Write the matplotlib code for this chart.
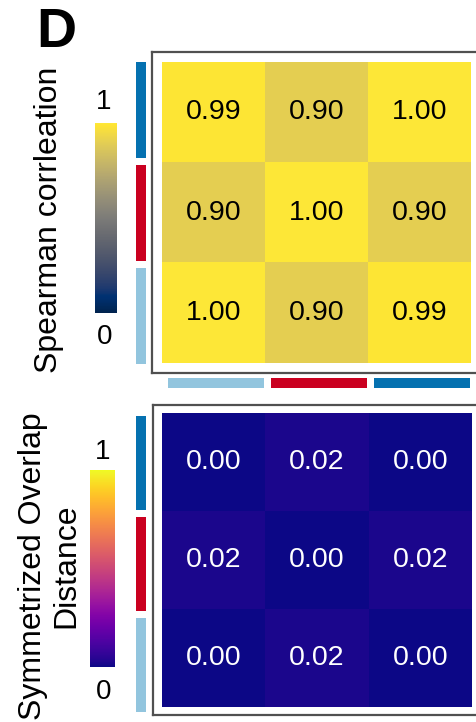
import numpy as np
import matplotlib
matplotlib.use('Agg')
import matplotlib.pyplot as plt
from matplotlib.cm import ScalarMappable
from matplotlib.colors import Normalize

plt.rcParams['font.family'] = ['Liberation Sans', 'DejaVu Sans']

# data
row_colors = ['#0571B0', '#CA0020', '#92C5DE']   # groups, top to bottom
col_colors = ['#92C5DE', '#CA0020', '#0571B0']   # groups, left to right
spearman = np.array([[0.99, 0.90, 1.00],
                     [0.90, 1.00, 0.90],
                     [1.00, 0.90, 0.99]])
overlap = np.array([[0.00, 0.02, 0.00],
                    [0.02, 0.00, 0.02],
                    [0.00, 0.02, 0.00]])

W, H = 476, 722
fig = plt.figure(figsize=(W / 100, H / 100), dpi=100)


def px_axes(x0, y0, x1, y1):
    # axes placed by pixel box (top-left origin)
    return fig.add_axes([x0 / W, 1 - y1 / H, (x1 - x0) / W, (y1 - y0) / H])


def frame(x0, y0, x1, y1):
    ax = px_axes(x0, y0, x1, y1)
    ax.set_xticks([])
    ax.set_yticks([])
    for s in ax.spines.values():
        s.set_color('#505050')
        s.set_linewidth(1.6)
    return ax


def heat(ax, mat, cmap, txt_color):
    ax.imshow(mat, cmap=cmap, vmin=0, vmax=1, aspect='auto', interpolation='nearest')
    for i in range(mat.shape[0]):
        for j in range(mat.shape[1]):
            ax.text(j, i, f'{mat[i, j]:.2f}', ha='center', va='center',
                    fontsize=20.5, color=txt_color)
    ax.axis('off')


def row_bars(ax):
    ax.barh(range(3), [1] * 3, height=0.93, color=row_colors)
    ax.set_ylim(2.5, -0.5)
    ax.set_xlim(0, 1)
    ax.axis('off')


def cbar(x0, y0, x1, y1, cmap):
    cax = px_axes(x0, y0, x1, y1)
    cb = fig.colorbar(ScalarMappable(Normalize(0, 1), cmap), cax=cax, ticks=[])
    cb.outline.set_visible(False)
    return cb


# --- top panel: Spearman correlation ---
frame(152, 52, 495, 373)
heat(px_axes(162, 62, 471, 363), spearman, 'cividis', 'black')
row_bars(px_axes(136, 58, 146, 368))
axb = px_axes(164, 378, 474, 388)
axb.bar(range(3), [1] * 3, width=0.93, color=col_colors)
axb.set_xlim(-0.5, 2.5)
axb.set_ylim(0, 1)
axb.axis('off')

cbar(95, 123, 117, 313, 'cividis')
fig.text(104 / W, 1 - 102 / H, '1', ha='center', va='center', fontsize=20)
fig.text(105 / W, 1 - 337 / H, '0', ha='center', va='center', fontsize=20)
fig.text(49 / W, 1 - 220 / H, 'Spearman corrleation', rotation=90,
         ha='center', va='center', fontsize=23)

# --- bottom panel: Symmetrized Overlap Distance ---
frame(153, 405, 495, 715)
heat(px_axes(162, 413, 472, 707), overlap, 'plasma', 'white')
row_bars(px_axes(136, 412, 146, 716))

cbar(90, 470, 115, 667, 'plasma')
fig.text(103 / W, 1 - 452 / H, '1', ha='center', va='center', fontsize=20)
fig.text(104 / W, 1 - 692 / H, '0', ha='center', va='center', fontsize=20)
fig.text(50 / W, 1 - 566 / H, 'Symmetrized Overlap\nDistance', rotation=90,
         ha='center', va='center', fontsize=23, multialignment='center',
         linespacing=1.15)

fig.text(56 / W, 1 - 33 / H, 'D', ha='center', va='center', fontsize=40,
         fontweight='bold')

fig.savefig('out.png', dpi=100)
